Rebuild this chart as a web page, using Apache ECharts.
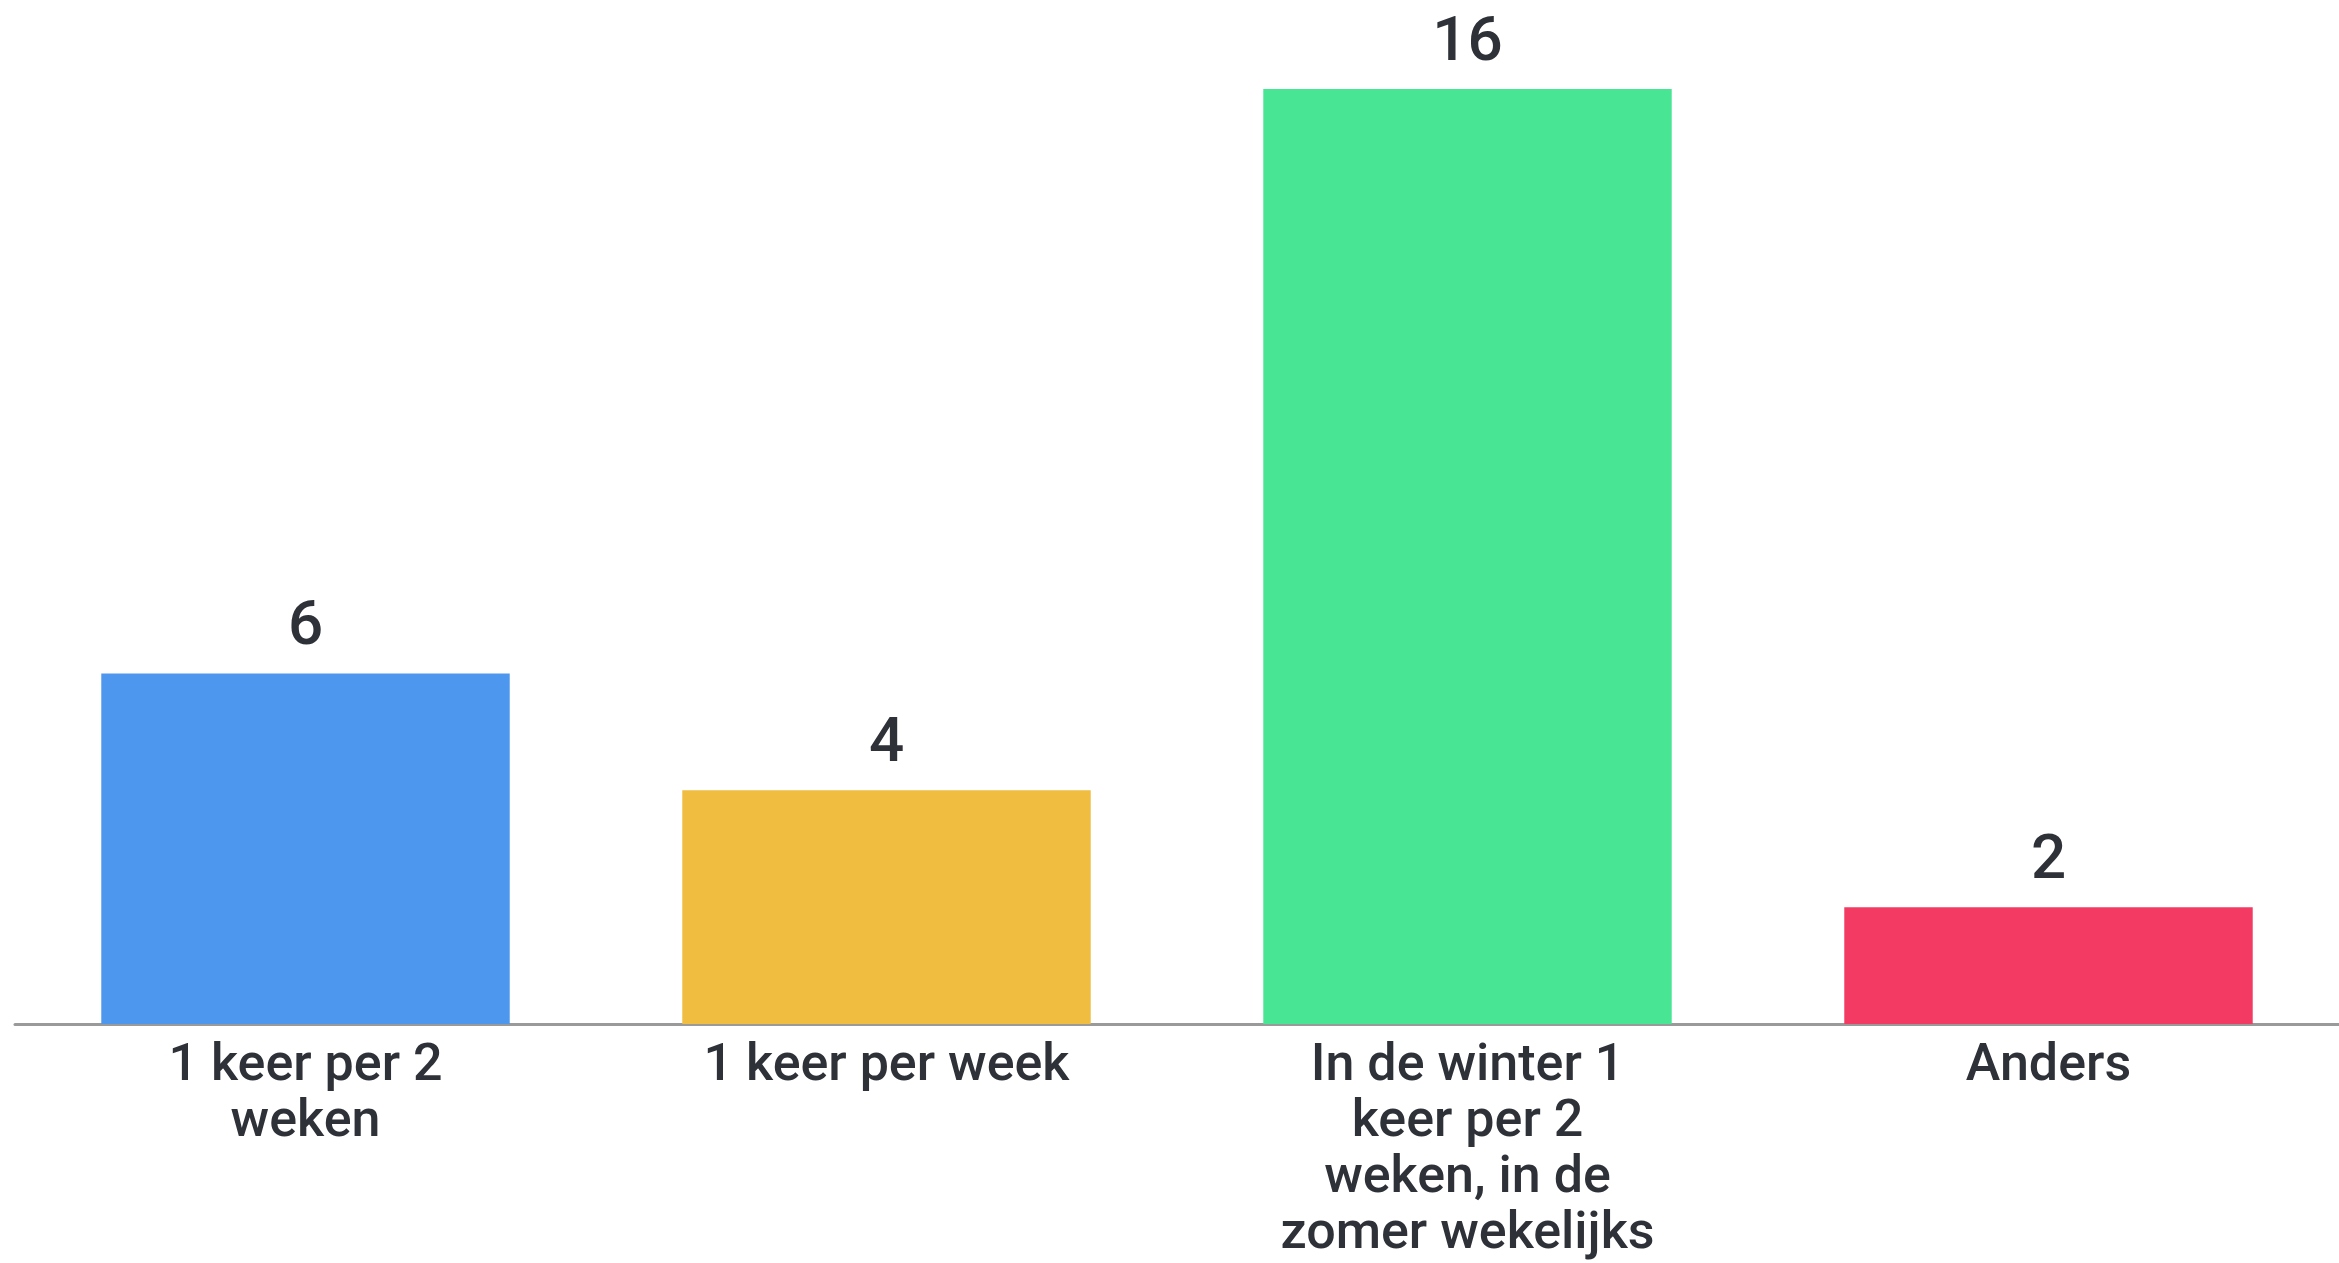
<!DOCTYPE html>
<html>
<head>
<meta charset="utf-8">
<script src="https://cdn.jsdelivr.net/npm/echarts@6/dist/echarts.min.js"></script>
<style>
html,body{margin:0;padding:0;background:#ffffff;}
#chart{width:2339px;height:1263px;}
</style>
</head>
<body>
<div id="chart"></div>
<script>
const categories = ["1 keer per 2\nweken", "1 keer per week", "In de winter 1\nkeer per 2\nweken, in de\nzomer wekelijks", "Anders"];
const values = [6, 4, 16, 2];
const colors = ["#4d97ee", "#f0bd41", "#48e694", "#f23a63"];

const chart = echarts.init(document.getElementById('chart'));
chart.setOption({
  animation: false,
  backgroundColor: '#ffffff',
  grid: { left: 15, top: 89, width: 2334, height: 939, containLabel: false },
  xAxis: {
    type: 'category',
    data: categories,
    axisLine: { show: true, lineStyle: { color: '#9a9a9a', width: 3 } },
    axisTick: { show: false },
    axisLabel: {
      interval: 0,
      margin: 15,
      color: '#2e3138',
      fontFamily: 'Roboto',
      fontWeight: 500,
      fontSize: 52,
      lineHeight: 56,
      align: 'center'
    }
  },
  yAxis: {
    type: 'value',
    min: 0,
    max: 16,
    show: false,
    splitLine: { show: false }
  },
  series: [{
    type: 'bar',
    barWidth: '70.3%',
    data: values.map((v, i) => ({ value: v, itemStyle: { color: colors[i] } })),
    label: {
      show: true,
      position: 'top',
      distance: 14,
      color: '#2e3138',
      fontFamily: 'Roboto',
      fontWeight: 500,
      fontSize: 62
    }
  }]
});
</script>
</body>
</html>
